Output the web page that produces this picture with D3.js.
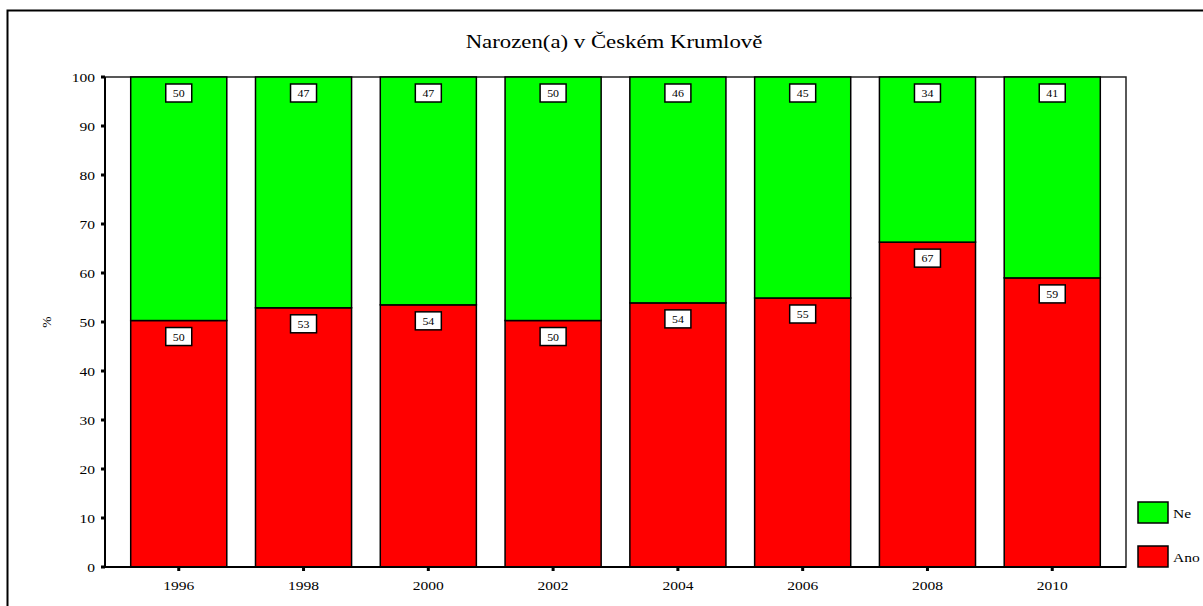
<!doctype html>
<meta charset='utf-8'>
<title>Narozen(a) v Českém Krumlově</title>
<style type="text/css">
	body { margin:0; background:white; }
	svg { display:block; font-family:"Liberation Serif","Times New Roman",serif; }
</style>
<div id='container'></div>
<script src="https://cdnjs.cloudflare.com/ajax/libs/d3/7.8.5/d3.min.js" charset="utf-8"></script>
<script>

	var years = ['1996','1998','2000','2002','2004','2006','2008','2010']
	var ano = [50.3, 52.9, 53.5, 50.3, 53.9, 54.9, 66.3, 59.0]
	var ne = [49.7, 47.1, 46.5, 49.7, 46.1, 45.1, 33.7, 41.0]
	var anoLabels = [50, 53, 54, 50, 54, 55, 67, 59]
	var neLabels = [50, 47, 47, 50, 46, 45, 34, 41]
	var yTicks = [0,10,20,30,40,50,60,70,80,90,100]
	var series = [
		{name:'Ano', color:'#ff0000', values:ano, labels:anoLabels},
		{name:'Ne', color:'#00ff00', values:ne, labels:neLabels}
	]

	var W = 1203, H = 606
	var plot = {left:105, right:1126, top:77, bottom:567}
	var SX = 1.15   // the original looks slightly stretched horizontally

	// text placed via transform so it can be stretched
	function at(x, y, sx) {
		return 'translate(' + x + ',' + y + ') scale(' + (sx || SX) + ',1)'
	}

	var svg = d3.select('#container').append('svg')
		.attr('width', W).attr('height', H)

	// outer frame (only top and left edges visible)
	svg.append('path')
		.attr('d', 'M7.5,' + H + 'V10.5H' + W)
		.style('fill','none').style('stroke','#000').style('stroke-width','2px')

	svg.append('text')
		.attr('transform', at(614, 48, 1.2))
		.attr('text-anchor','middle')
		.style('font-size','19px')
		.text('Narozen(a) v Českém Krumlově')

	var x = d3.scaleBand()
		.domain(years)
		.range([plot.left, plot.right])
		.paddingInner(0.23)
		.paddingOuter(0.206)

	var y = d3.scaleLinear()
		.domain([0,100])
		.range([plot.bottom, plot.top])

	// stack
	var stacked = years.map(function(yr, i) {
		var base = 0
		return series.map(function(s) {
			var d = {year:yr, y0:base, y1:base + s.values[i], color:s.color, label:s.labels[i]}
			base += s.values[i]
			return d
		})
	})
	var segs = [].concat.apply([], stacked)

	// plot frame
	svg.append('rect')
		.attr('x', plot.left).attr('y', plot.top)
		.attr('width', plot.right - plot.left).attr('height', plot.bottom - plot.top)
		.style('fill','none').style('stroke','#222').style('stroke-width','1.5px')

	svg.selectAll('rect.seg').data(segs).enter().append('rect')
		.attr('class','seg')
		.attr('x', function(d){ return x(d.year) })
		.attr('width', x.bandwidth())
		.attr('y', function(d){ return y(d.y1) })
		.attr('height', function(d){ return y(d.y0) - y(d.y1) })
		.style('fill', function(d){ return d.color })
		.style('stroke','#000').style('stroke-width','1.5px')

	var lab = svg.selectAll('g.lab').data(segs).enter().append('g')
		.attr('class','lab')
		.attr('transform', function(d){
			return 'translate(' + (x(d.year) + x.bandwidth()/2) + ',' + (y(d.y1) + 7) + ')'
		})
	lab.append('rect')
		.attr('x', -13).attr('y', 0).attr('width', 26).attr('height', 18)
		.style('fill','#fff').style('stroke','#000').style('stroke-width','1.5px')
	lab.append('text')
		.attr('transform', at(0, 13, 1.08))
		.attr('text-anchor','middle')
		.style('font-size','11px')
		.text(function(d){ return d.label })

	// axes
	svg.append('line')
		.attr('x1', plot.left).attr('x2', plot.left)
		.attr('y1', plot.top).attr('y2', plot.bottom)
		.style('stroke','#000').style('stroke-width','2px')
	svg.append('line')
		.attr('x1', plot.left).attr('x2', plot.right)
		.attr('y1', plot.bottom).attr('y2', plot.bottom)
		.style('stroke','#000').style('stroke-width','2px')

	svg.selectAll('rect.ytick').data(yTicks).enter().append('rect')
		.attr('class','ytick')
		.attr('x', plot.left - 4).attr('y', function(d){ return y(d) - 1.5 })
		.attr('width', 4).attr('height', 3).style('fill','#000')
	svg.selectAll('text.ytick').data(yTicks).enter().append('text')
		.attr('class','ytick')
		.attr('transform', function(d){ return at(plot.left - 10, y(d) + 5) })
		.attr('text-anchor','end')
		.style('font-size','13.5px')
		.text(function(d){ return d })

	svg.selectAll('rect.xtick').data(years).enter().append('rect')
		.attr('class','xtick')
		.attr('x', function(d){ return x(d) + x.bandwidth()/2 - 1.5 })
		.attr('y', plot.bottom).attr('width', 3).attr('height', 4).style('fill','#000')
	svg.selectAll('text.xtick').data(years).enter().append('text')
		.attr('class','xtick')
		.attr('transform', function(d){ return at(x(d) + x.bandwidth()/2, plot.bottom + 23) })
		.attr('text-anchor','middle')
		.style('font-size','13.5px')
		.text(function(d){ return d })

	svg.append('text')
		.attr('transform','translate(51,322) rotate(-90)')
		.attr('text-anchor','middle')
		.style('font-size','13.5px')
		.text('%')

	// legend
	var legend = svg.selectAll('g.leg').data(series.slice().reverse()).enter().append('g')
		.attr('class','leg')
		.attr('transform', function(d, i){ return 'translate(1138,' + (502 + i * 44) + ')' })
	legend.append('rect')
		.attr('width', 30).attr('height', 21)
		.style('fill', function(d){ return d.color })
		.style('stroke','#000').style('stroke-width','1.5px')
	legend.append('text')
		.attr('transform', at(35, 16))
		.style('font-size','13.5px')
		.text(function(d){ return d.name })

</script>
